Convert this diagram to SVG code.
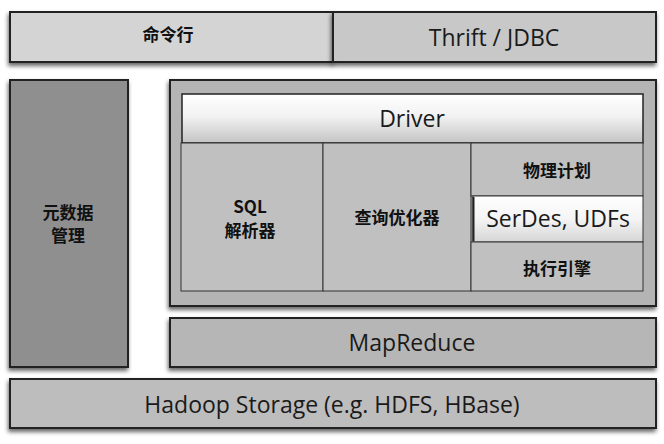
<svg xmlns="http://www.w3.org/2000/svg" width="664" height="444" viewBox="0 0 664 444">
<defs>
  <filter id="sh" x="-10%" y="-20%" width="120%" height="150%">
    <feDropShadow dx="-1" dy="3" stdDeviation="2" flood-color="#000" flood-opacity="0.6"/>
  </filter>
  <linearGradient id="gDriver" x1="0" y1="0" x2="0" y2="1">
    <stop offset="0" stop-color="#ffffff"/>
    <stop offset="0.45" stop-color="#f2f2f2"/>
    <stop offset="1" stop-color="#c4c4c4"/>
  </linearGradient>
  <linearGradient id="gSer" x1="0" y1="0" x2="0" y2="1">
    <stop offset="0" stop-color="#ffffff"/>
    <stop offset="0.5" stop-color="#f4f4f4"/>
    <stop offset="1" stop-color="#d6d6d6"/>
  </linearGradient>
  <style>
    .box { stroke: #222; stroke-width: 2; }
    .cell { fill: #c0c0c0; stroke: #333; stroke-width: 1; }
    .en { font-family: "Open Sans", "DejaVu Sans", sans-serif; fill: #1a1a1a; text-anchor: middle; dominant-baseline: central; font-size: 23px; }
    .cn { font-family: "Noto Sans CJK SC", "Noto Sans", sans-serif; font-weight: bold; fill: #111; text-anchor: middle; dominant-baseline: central; font-size: 17px; }
  </style>
</defs>
<rect width="664" height="444" fill="#ffffff"/>

<g id="cli">
  <rect class="box" x="10" y="12" width="323" height="50" fill="#d4d4d4" filter="url(#sh)"/>
  <text class="cn" x="168" y="33">命令行</text>
</g>
<g id="thrift">
  <rect class="box" x="333" y="12" width="323" height="50" fill="#c8c8c8" filter="url(#sh)"/>
  <text class="en" x="494" y="37">Thrift / JDBC</text>
</g>

<g id="metastore">
  <rect class="box" x="10" y="80" width="118" height="287" fill="#8f8f8f" filter="url(#sh)"/>
  <text class="cn" x="68" y="211">元数据</text>
  <text class="cn" x="68" y="234">管理</text>
</g>

<g id="hive">
  <rect class="box" x="170" y="80" width="486" height="226" fill="#b4b4b4" filter="url(#sh)"/>
</g>

<g id="driver">
  <rect x="182" y="94" width="461" height="49" fill="url(#gDriver)" stroke="#222" stroke-width="1.5"/>
  <text class="en" x="412" y="118">Driver</text>
</g>

<g id="sqlparser">
  <rect class="cell" x="181" y="143" width="142" height="148"/>
  <text class="cn" x="250" y="205" font-size="16" font-family="'Open Sans', 'Noto Sans CJK SC', sans-serif">SQL</text>
  <text class="cn" x="250" y="229">解析器</text>
</g>

<g id="optimizer">
  <rect class="cell" x="323" y="143" width="148" height="148"/>
  <text class="cn" x="397" y="216">查询优化器</text>
</g>

<g id="physplan">
  <rect class="cell" x="471" y="143" width="172" height="53"/>
  <text class="cn" x="557" y="169">物理计划</text>
</g>

<g id="serdes">
  <rect x="473" y="196" width="170" height="46" fill="url(#gSer)" stroke="#333" stroke-width="1"/>
  <line x1="473.5" y1="197" x2="473.5" y2="241" stroke="#222" stroke-width="2"/>
  <text class="en" x="558" y="218">SerDes, UDFs</text>
</g>

<g id="engine">
  <rect class="cell" x="471" y="242" width="172" height="49"/>
  <text class="cn" x="557" y="267">执行引擎</text>
</g>

<g id="mapreduce">
  <rect class="box" x="170" y="318" width="486" height="49" fill="#b6b6b6" filter="url(#sh)"/>
  <text class="en" x="412" y="342">MapReduce</text>
</g>

<g id="hadoop">
  <rect class="box" x="10" y="379" width="646" height="49" fill="#bdbdbd" filter="url(#sh)"/>
  <text class="en" x="332" y="404">Hadoop Storage (e.g. HDFS, HBase)</text>
</g>

<g id="connectors"></g>
</svg>
